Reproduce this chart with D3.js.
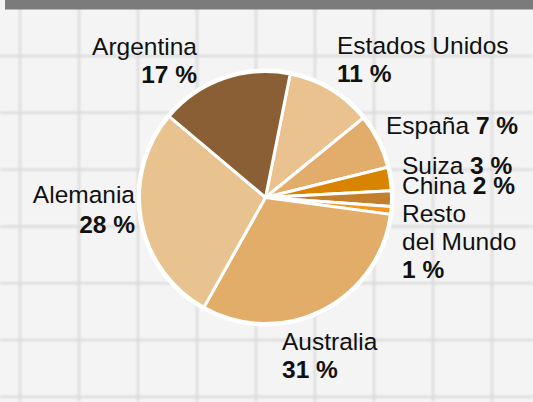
<!DOCTYPE html>
<html>
<head>
<meta charset="utf-8">
<script src="https://cdn.jsdelivr.net/npm/d3@7"></script>
<style>
  html, body { margin: 0; padding: 0; background: #f3f3f3; }
  svg { display: block; }
  text { font-family: 'Liberation Sans', Arial, sans-serif; font-size: 24.5px; fill: #111; }
</style>
</head>
<body>
<svg id="chart" width="533" height="402"></svg>
<script>
// + -- data ------------------------------------------------------------------ +
const countries = ['Estados Unidos', 'España', 'Suiza', 'China', 'Resto del Mundo', 'Australia', 'Alemania', 'Argentina']
const shares = [11, 7, 3, 2, 1, 31, 28, 17]
const colors = ['#e9c28f', '#e2ad6a', '#d98400', '#c2802f', '#f7961e', '#e2ad69', '#e9c38f', '#8b5f35']

// label lines: [name part, bold part] per line
const labelLines = [
  [['Argentina', ''], ['', '17 %']],
  [['Estados Unidos', ''], ['', '11 %']],
  [['España ', '7 %']],
  [['Suiza ', '3 %']],
  [['China ', '2 %']],
  [['Resto', ''], ['del Mundo', ''], ['', '1 %']],
  [['Alemania', ''], ['', '28 %']],
  [['Australia', ''], ['', '31 %']]
]

const W = 533, H = 402
const cx = 265.5, cy = 197.5, R = 126
const svg = d3.select('#chart')

// + -- background grid -------------------------------------------------------- +
svg.append('rect').attr('width', W).attr('height', H).attr('fill', '#f4f4f4')
let defs = svg.append('defs')
defs.append('filter').attr('id', 'soft')
  .append('feGaussianBlur').attr('stdDeviation', 1.1)

let grid = svg.append('g').attr('filter', 'url(#soft)')
  .attr('stroke', '#dcdcdc').attr('stroke-width', 2.5)
d3.range(20, W, 59).forEach(x => {
  grid.append('line').attr('x1', x).attr('x2', x).attr('y1', 0).attr('y2', H)
})
d3.range(56, H + 2, 56.8).forEach(y => {
  grid.append('line').attr('x1', 0).attr('x2', W).attr('y1', y).attr('y2', y)
})

// header bar
svg.append('rect').attr('x', 5).attr('y', 0).attr('width', W - 5).attr('height', 9.5).attr('fill', '#7b7b7b')

// + -- pie --------------------------------------------------------------------- +
const start = 11.3 * Math.PI / 180
const pie = d3.pie().sort(null).startAngle(start).endAngle(start + 2 * Math.PI)
const arc = d3.arc().innerRadius(0).outerRadius(R)

let p = svg.append('g').attr('transform', 'translate(' + cx + ',' + cy + ')')
p.append('circle').attr('r', R + 3).attr('fill', '#fff')
p.selectAll('path')
  .data(pie(shares))
  .enter().append('path')
  .attr('d', arc)
  .attr('fill', (d, i) => colors[i])
  .attr('stroke', '#fff')
  .attr('stroke-width', 3)
  .attr('stroke-linejoin', 'round')

// + -- labels ------------------------------------------------------------------ +
const labelPos = [
  {x: 197, y: 55, dy: 28, anchor: 'end'},
  {x: 337, y: 54, dy: 28, anchor: 'start'},
  {x: 386, y: 134, dy: 28, anchor: 'start'},
  {x: 402, y: 174, dy: 28, anchor: 'start'},
  {x: 402, y: 194, dy: 28, anchor: 'start'},
  {x: 402, y: 222, dy: 28, anchor: 'start'},
  {x: 135, y: 203, dy: 30, anchor: 'end'},
  {x: 282, y: 350, dy: 28, anchor: 'start'}
]

labelLines.forEach((lines, i) => {
  let pos = labelPos[i]
  lines.forEach((ln, j) => {
    let t = svg.append('text')
      .attr('x', pos.x)
      .attr('y', pos.y + j * pos.dy)
      .attr('text-anchor', pos.anchor)
    if (ln[0]) t.append('tspan').text(ln[0])
    if (ln[1]) t.append('tspan').attr('font-weight', 700).text(ln[1])
  })
})
</script>
</body>
</html>
